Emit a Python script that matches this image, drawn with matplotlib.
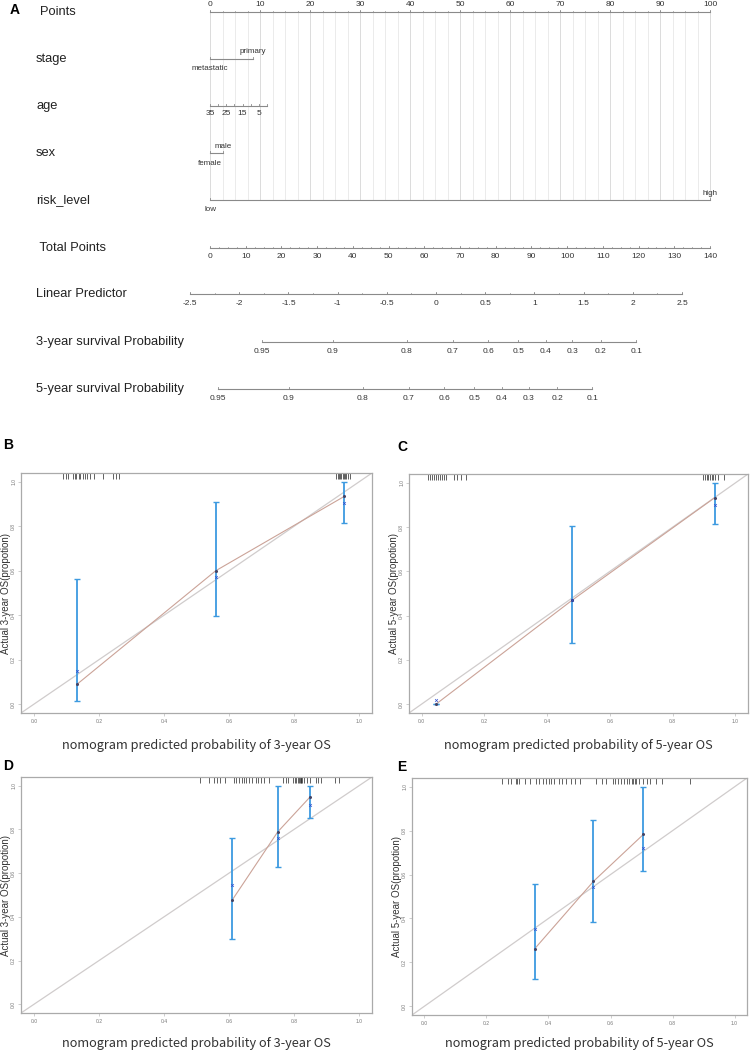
import numpy as np
import matplotlib
matplotlib.use('Agg')
import matplotlib.pyplot as plt

W, H = 750, 1053
plt.rcParams['font.family'] = ['Liberation Sans', 'DejaVu Sans']
fig = plt.figure(figsize=(W / 100, H / 100), dpi=100)

# ---------------- Nomogram data ----------------
points_ticks = list(range(0, 101, 10))
stage_levels = ['metastatic', 'primary']
stage_points = [0.0, 8.6]
age_values = [35, 30, 25, 20, 15, 10, 5, 0]
age_labels = ['35', '', '25', '', '15', '', '5', '']
age_points_at_0 = 11.4
sex_levels = ['female', 'male']
sex_points = [0.0, 2.6]
risk_levels = ['low', 'high']
risk_points = [0.0, 100.0]
total_ticks = list(range(0, 141, 10))
total_max = 140.0
lp_ticks = [-2.5, -2, -1.5, -1, -0.5, 0, 0.5, 1, 1.5, 2, 2.5]
lp_labels = ['-2.5', '-2', '-1.5', '-1', '-0.5', '0', '0.5', '1', '1.5', '2', '2.5']
tp_at_lp0 = 63.3
tp_per_lp = 27.55
surv_ticks = [0.95, 0.9, 0.8, 0.7, 0.6, 0.5, 0.4, 0.3, 0.2, 0.1]
baseline_s3 = 0.740
baseline_s5 = 0.625

row_names = ['Points', 'stage', 'age', 'sex', 'risk_level', ' Total Points',
             'Linear Predictor', '3-year survival Probability', '5-year survival Probability']

# ---------------- Calibration data ----------------
B_pred = [0.133, 0.559, 0.955]
B_obs = [0.09, 0.60, 0.935]
B_corr = [0.15, 0.57, 0.905]
B_lo = [0.015, 0.397, 0.815]
B_hi = [0.563, 0.911, 1.0]
B_rug = [0.090, 0.098, 0.106, 0.121, 0.126, 0.130, 0.137, 0.142, 0.152, 0.158, 0.164,
         0.171, 0.185, 0.212, 0.243, 0.251, 0.262, 0.929, 0.934, 0.938, 0.942, 0.945,
         0.950, 0.953, 0.957, 0.961, 0.965, 0.973]

C_pred = [0.046, 0.48, 0.934]
C_obs = [0.0, 0.47, 0.933]
C_corr = [0.02, 0.47, 0.898]
C_lo = [0.0, 0.276, 0.816]
C_hi = [0.0, 0.803, 1.0]
C_rug = [0.022, 0.028, 0.033, 0.041, 0.046, 0.051, 0.060, 0.065, 0.071, 0.079, 0.103,
         0.113, 0.126, 0.140, 0.898, 0.904, 0.909, 0.914, 0.920, 0.925, 0.930, 0.936,
         0.946, 0.963]

D_pred = [0.609, 0.75, 0.849]
D_obs = [0.475, 0.789, 0.948]
D_corr = [0.548, 0.761, 0.913]
D_lo = [0.297, 0.627, 0.854]
D_hi = [0.761, 0.997, 1.0]
D_rug = [0.511, 0.539, 0.553, 0.563, 0.573, 0.589, 0.615, 0.622, 0.630, 0.639, 0.646,
         0.653, 0.661, 0.672, 0.682, 0.690, 0.698, 0.708, 0.724, 0.766, 0.774, 0.781,
         0.797, 0.802, 0.807, 0.811, 0.814, 0.817, 0.820, 0.823, 0.826, 0.830, 0.839,
         0.849, 0.868, 0.875, 0.882, 0.927, 0.938]

E_pred = [0.355, 0.545, 0.706]
E_obs = [0.261, 0.569, 0.783]
E_corr = [0.351, 0.544, 0.719]
E_lo = [0.124, 0.382, 0.618]
E_hi = [0.559, 0.849, 1.0]
E_rug = [0.251, 0.269, 0.280, 0.294, 0.298, 0.305, 0.323, 0.341, 0.361, 0.371, 0.382,
         0.393, 0.401, 0.409, 0.419, 0.434, 0.442, 0.457, 0.473, 0.487, 0.502, 0.554,
         0.573, 0.586, 0.608, 0.616, 0.624, 0.634, 0.645, 0.653, 0.661, 0.670, 0.674,
         0.679, 0.683, 0.691, 0.704, 0.717, 0.728, 0.747, 0.766, 0.855]

# ---------------- Nomogram drawing ----------------
NOM_H = 420
ax0 = fig.add_axes([0, 1 - NOM_H / H, 1, NOM_H / H])
ax0.set_xlim(-42, 108)
ax0.set_ylim(NOM_H, 0)
ax0.axis('off')

LINE_C = '#8a8a8a'
TXT_C = '#333333'
ROW_FS = 9.3
TICK_FS = 6.0
CAT_FS = 5.8

row_y = [12, 59, 106, 153, 200, 248, 294, 342, 389]
row_x_px = [40, 36, 36, 36, 36, 36, 36, 36, 36]
for name, y, xp in zip(row_names, row_y, row_x_px):
    ax0.text(xp / 5 - 42, y, name, fontsize=ROW_FS, color='#222222', ha='left', va='center')

ax0.text(10 / 5 - 42, 10, 'A', fontsize=10, fontweight='bold', ha='left', va='center')

# grid lines
grid_x = np.arange(0, 100.01, 2.5)
for gx in grid_x:
    c = '#d6d6d6' if abs(gx % 10) < 1e-6 else '#e8e8e8'
    ax0.plot([gx, gx], [12, 200], color=c, lw=0.6, zorder=0)


def hline_axis(ax, xs, y, labels, label_dy, fs=TICK_FS, ticks=None, tick_len=2.5, minor=None):
    ax.plot([min(xs + (minor or [])), max(xs + (minor or []))], [y, y], color=LINE_C, lw=0.8)
    for x in (ticks if ticks is not None else xs):
        ax.plot([x, x], [y, y - tick_len], color=LINE_C, lw=0.6)
    if minor:
        for x in minor:
            ax.plot([x, x], [y, y - 1.5], color=LINE_C, lw=0.5)
    for x, lab in zip(xs, labels):
        if lab:
            ax.text(x, y + label_dy, lab, fontsize=fs, color=TXT_C, ha='center', va='center')


# Points
pt_minor = list(np.arange(0, 100.01, 2.5))
hline_axis(ax0, points_ticks, 12, [str(t) for t in points_ticks], -7, minor=pt_minor)

# stage
ax0.plot(stage_points, [59, 59], color=LINE_C, lw=0.8)
for p in stage_points:
    ax0.plot([p, p], [59, 57], color=LINE_C, lw=0.6)
ax0.text(stage_points[1], 51.5, stage_levels[1], fontsize=CAT_FS, color=TXT_C, ha='center', va='center')
ax0.text(stage_points[0], 68, stage_levels[0], fontsize=CAT_FS, color=TXT_C, ha='center', va='center')

# age
age_x = [(35 - a) * age_points_at_0 / 35 for a in age_values]
hline_axis(ax0, age_x, 106, age_labels, 7.5, fs=CAT_FS + 0.2)

# sex
ax0.plot(sex_points, [153, 153], color=LINE_C, lw=0.8)
for p in sex_points:
    ax0.plot([p, p], [153, 151], color=LINE_C, lw=0.6)
ax0.text(sex_points[1], 146, sex_levels[1], fontsize=CAT_FS, color=TXT_C, ha='center', va='center')
ax0.text(sex_points[0], 163, sex_levels[0], fontsize=CAT_FS, color=TXT_C, ha='center', va='center')

# risk level
ax0.plot(risk_points, [200, 200], color=LINE_C, lw=0.8)
for p in risk_points:
    ax0.plot([p, p], [200, 198], color=LINE_C, lw=0.6)
ax0.text(risk_points[1], 193, risk_levels[1], fontsize=CAT_FS, color=TXT_C, ha='center', va='center')
ax0.text(risk_points[0], 209, risk_levels[0], fontsize=CAT_FS, color=TXT_C, ha='center', va='center')

# total points
tp_x = [t * 100 / total_max for t in total_ticks]
tp_minor = [t * 100 / total_max for t in np.arange(0, 140.01, 2.5)]
hline_axis(ax0, tp_x, 248, [str(t) for t in total_ticks], 8.5, minor=tp_minor)


def lp_to_x(lp):
    return (tp_at_lp0 + tp_per_lp * lp) * 100 / total_max


lp_x = [lp_to_x(v) for v in lp_ticks]
lp_minor = [lp_to_x(v) for v in np.arange(-2.5, 2.51, 0.25)]
hline_axis(ax0, lp_x, 294, lp_labels, 9.5, minor=lp_minor)


def surv_to_x(s, s0):
    lp = np.log(-np.log(s)) - np.log(-np.log(s0))
    return lp_to_x(lp)


s3_x = [surv_to_x(s, baseline_s3) for s in surv_ticks]
hline_axis(ax0, s3_x, 342, [f'{s:g}' for s in surv_ticks], 9)
s5_x = [surv_to_x(s, baseline_s5) for s in surv_ticks]
hline_axis(ax0, s5_x, 389, [f'{s:g}' for s in surv_ticks], 9)

# ---------------- Calibration panels ----------------
DIAG_C = '#d0cccc'
CAL_C = '#cba398'
ERR_C = '#3d9ae0'


def px_rect(l, t, r, b):
    return [l / W, 1 - b / H, (r - l) / W, (b - t) / H]


def calib(rect, pred, obs, corr, lo, hi, rug, ylabel, xlabel, letter, letter_xy, xlab_y, ylab_x):
    ax = fig.add_axes(px_rect(*rect))
    ax.set_xlim(-0.04, 1.04)
    ax.set_ylim(-0.04, 1.04)
    ax.plot([-0.04, 1.04], [-0.04, 1.04], color=DIAG_C, lw=0.9, zorder=1)
    ax.plot(pred, obs, color=CAL_C, lw=0.8, zorder=2)
    pred = np.array(pred); obs = np.array(obs)
    yerr = [obs - np.array(lo), np.array(hi) - obs]
    ax.errorbar(pred, obs, yerr=yerr, fmt='none', ecolor=ERR_C, elinewidth=1.3,
                capsize=2.5, capthick=1.0, zorder=3)
    ax.plot(pred, obs, 'o', ms=1.2, color='#444466', zorder=4)
    ax.plot(pred, corr, 'x', ms=2.0, mew=0.5, color='#3050d0', zorder=4)
    ax.vlines(rug, 0.975, 1.0, transform=ax.get_xaxis_transform(), color='#222222', lw=0.5)
    ticks = [0, 0.2, 0.4, 0.6, 0.8, 1.0]
    ax.set_xticks(ticks)
    ax.set_xticklabels([f'{t:.1f}' for t in ticks])
    ax.set_yticks(ticks)
    ax.set_yticklabels([f'{t:.1f}' for t in ticks], rotation=90, va='center')
    ax.tick_params(labelsize=3.6, labelcolor='#777777', length=2, width=0.4, color='#aaaaaa', pad=1.5)
    ax.tick_params(axis='x', pad=2.5)
    for s in ax.spines.values():
        s.set_color('#aaaaaa')
        s.set_linewidth(0.9)
    ax.set_ylabel(ylabel, fontsize=7.0, color='#333333')
    ax.yaxis.set_label_coords((ylab_x - rect[0]) / (rect[2] - rect[0]), 0.5)
    cx = (rect[0] + rect[2]) / 2
    fig.text(cx / W, 1 - xlab_y / H, xlabel, fontsize=9.2, color='#333333', ha='center', va='center',
             family=['Noto Sans CJK SC', 'DejaVu Sans'])
    fig.text(letter_xy[0] / W, 1 - letter_xy[1] / H, letter, fontsize=10, fontweight='bold',
             ha='left', va='center')
    return ax


calib((21, 473, 372, 713), B_pred, B_obs, B_corr, B_lo, B_hi, B_rug,
      'Actual 3-year OS(propotion)', 'nomogram predicted probability of 3-year OS', 'B', (3, 445), 746, 11)
calib((409, 474, 748, 713), C_pred, C_obs, C_corr, C_lo, C_hi, C_rug,
      'Actual 5-year OS(propotion)', 'nomogram predicted probability of 5-year OS', 'C', (397, 447), 746, 399)
calib((21, 777, 372, 1013), D_pred, D_obs, D_corr, D_lo, D_hi, D_rug,
      'Actual 3-year OS(propotion)', 'nomogram predicted probability of 3-year OS', 'D', (3, 766), 1043, 11)
calib((412, 778, 747, 1015), E_pred, E_obs, E_corr, E_lo, E_hi, E_rug,
      'Actual 5-year OS(propotion)', 'nomogram predicted probability of 5-year OS', 'E', (397, 767), 1043, 402)

fig.savefig('out.png', dpi=100)
